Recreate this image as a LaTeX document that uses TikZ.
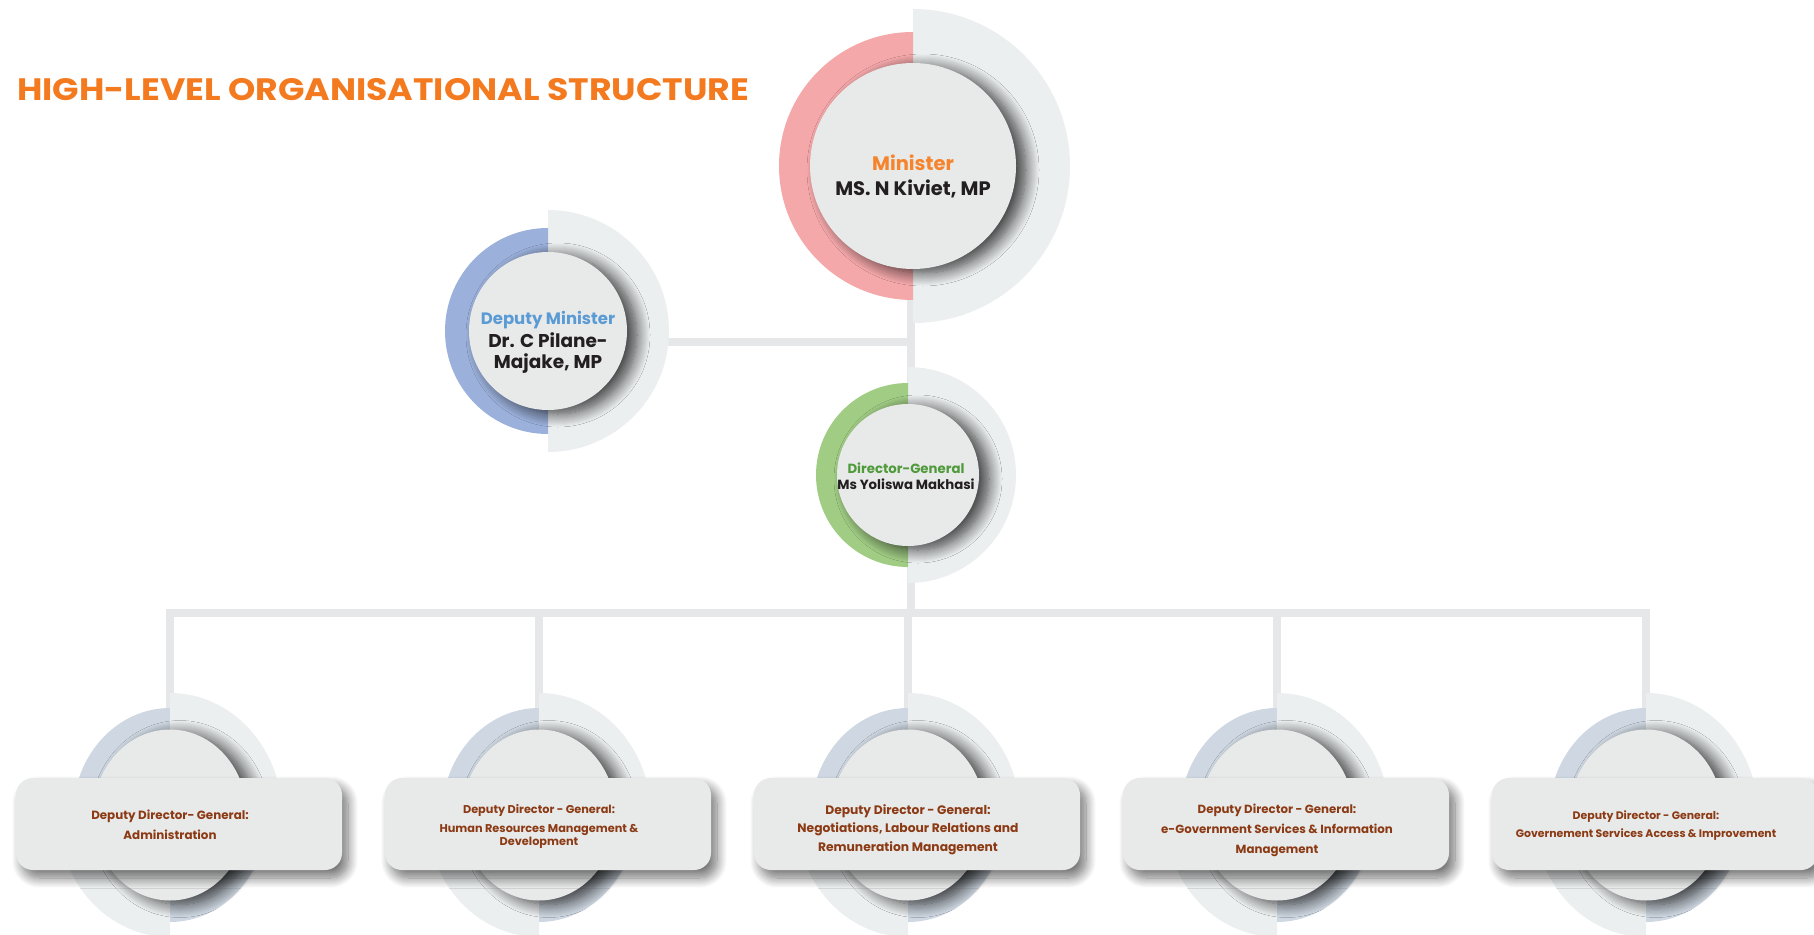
\documentclass[tikz,border=0pt]{standalone}
\usepackage{fontspec}
\setmainfont{Poppins}
\usetikzlibrary{shadows.blur}

\pgfdeclarelayer{background}
\pgfsetlayers{background,main}

\definecolor{titleorange}{HTML}{F47A20}
\definecolor{minorange}{HTML}{F5842C}
\definecolor{namedark}{HTML}{231F20}
\definecolor{dminblue}{HTML}{5B9BD5}
\definecolor{dggreen}{HTML}{4F9A3A}
\definecolor{ddgbrown}{HTML}{8B3A14}
\definecolor{ringgray}{HTML}{ECEFF0}
\definecolor{linkgray}{HTML}{E6E7E8}
\definecolor{discgray}{HTML}{E8E9E9}
\definecolor{minpink}{HTML}{F5A8AA}
\definecolor{dminring}{HTML}{9BB0DA}
\definecolor{dgring}{HTML}{A0CC84}
\definecolor{unitring}{HTML}{CFD8E2}

% half grey ring on the right, coloured half on the left
\newcommand{\topring}[5]{%
  \fill[ringgray] (#1,#2) -- ++(0,#3) arc[start angle=90, end angle=-90, radius=#3] -- cycle;
  \fill[#5] (#1,#2) -- ++(0,#4) arc[start angle=90, end angle=270, radius=#4] -- cycle;}

\begin{document}
\begin{tikzpicture}[x=1pt, y=1pt,
    link/.style={draw=linkgray, line width=8pt},
    discshadow/.style={blur shadow={shadow xshift=10pt, shadow yshift=-4pt, shadow blur radius=13pt,
      shadow blur steps=14, shadow opacity=75}},
    disc/.style={circle, fill=discgray, inner sep=0pt, discshadow},
    ddgbox/.style={rectangle, rounded corners=17pt, fill=discgray, minimum width=326pt, minimum height=92pt,
      blur shadow={shadow xshift=6pt, shadow yshift=-8pt, shadow blur radius=10pt, shadow blur steps=12, shadow opacity=55}},
    nametxt/.style={align=center, anchor=base, inner sep=0pt, font=\bfseries, text=namedark},
    ddgtxt/.style={align=center, anchor=base, inner sep=0pt, font=\bfseries, text=ddgbrown}]
  \useasboundingbox (0,0) rectangle (1814,-934);

  \node[anchor=base west, inner sep=0pt, text=titleorange,
    font=\fontsize{31}{36}\selectfont\bfseries\addfontfeatures{FakeStretch=1.12}]
    (title) at (17,-100) {HIGH-LEVEL ORGANISATIONAL STRUCTURE};

  % === Minister ===
  \topring{913}{-166}{157}{134}{minpink}
  \node[disc, minimum size=206pt] (min) at (913,-166) {};
  \node[nametxt, font=\fontsize{19.5}{25}\selectfont\bfseries] at (913,-195)
    {\textcolor{minorange}{Minister}\\MS. N Kiviet, MP};

  % === Deputy Minister ===
  \topring{548}{-331}{121}{103}{dminring}
  \node[disc, minimum size=158pt] (dmin) at (548,-331) {};
  \node[nametxt, font=\fontsize{18.5}{21}\selectfont\bfseries] at (548,-368)
    {\textcolor{dminblue}{\fontsize{16.5}{18}\selectfont Deputy Minister}\\[2pt]Dr. C Pilane-\\Majake, MP};

  % === Director-General ===
  \topring{908}{-475}{108}{92}{dgring}
  \node[disc, minimum size=142pt] (dg) at (908,-475) {};
  \node[nametxt, font=\fontsize{13.3}{16}\selectfont\bfseries] at (906,-489)
    {\textcolor{dggreen}{Director-General}\\Ms Yoliswa Makhasi};

  % === Deputy Directors-General ===
  \coordinate (bus) at (911,-613);
  \foreach \i/\cx in {1/170,2/539,3/908,4/1277,5/1646} {
    \coordinate (u\i) at (\cx,-815);
    \fill[unitring] (u\i) -- ++(0,107) arc[start angle=90, end angle=180, x radius=97, y radius=107] -- cycle;
    \fill[ringgray] (u\i) -- ++(0,122) arc[start angle=90, end angle=0, x radius=112, y radius=122] -- cycle;
    \fill[ringgray] (u\i) -- ++(0,-122) arc[start angle=270, end angle=180, x radius=112, y radius=122] -- cycle;
    \fill[unitring] (u\i) -- ++(0,-107) arc[start angle=270, end angle=360, x radius=97, y radius=107] -- cycle;
    \fill[discgray, discshadow] (u\i) ellipse[x radius=77, y radius=85.5];
    \node[ddgbox] (ddg\i) at (\cx+9,-824) {};
  }

  \node[ddgtxt, font=\fontsize{11.9}{20}\selectfont\bfseries] at (170,-839)
    {Deputy Director- General:\\Administration};
  \node[ddgtxt, font=\fontsize{11.3}{19}\selectfont\bfseries] at (539,-845)
    {Deputy Director - General:\\Human Resources Management \&\\[-6pt]Development};
  \node[ddgtxt, font=\fontsize{12.3}{18.5}\selectfont\bfseries] at (908,-851)
    {Deputy Director - General:\\Negotiations, Labour Relations and\\Remuneration Management};
  \node[ddgtxt, font=\fontsize{11.8}{20}\selectfont\bfseries] at (1277,-853)
    {Deputy Director - General:\\e-Government Services \& Information\\Management};
  \node[ddgtxt, font=\fontsize{10.9}{18}\selectfont\bfseries] at (1646,-837)
    {Deputy Director - General:\\Governement Services Access \& Improvement};

  % connectors behind the rings
  \begin{pgfonlayer}{background}
    \draw[link] (bus |- min.center) -- (bus);
    \draw[link] ([yshift=-11pt]dmin.center) -- ([yshift=-11pt]dmin.center -| bus);
    \draw[link, line cap=rect] (u1 |- bus) -- (u5 |- bus);
    \foreach \i in {1,...,5}
      \draw[link] (u\i |- bus) -- (u\i);
  \end{pgfonlayer}
\end{tikzpicture}
\end{document}
